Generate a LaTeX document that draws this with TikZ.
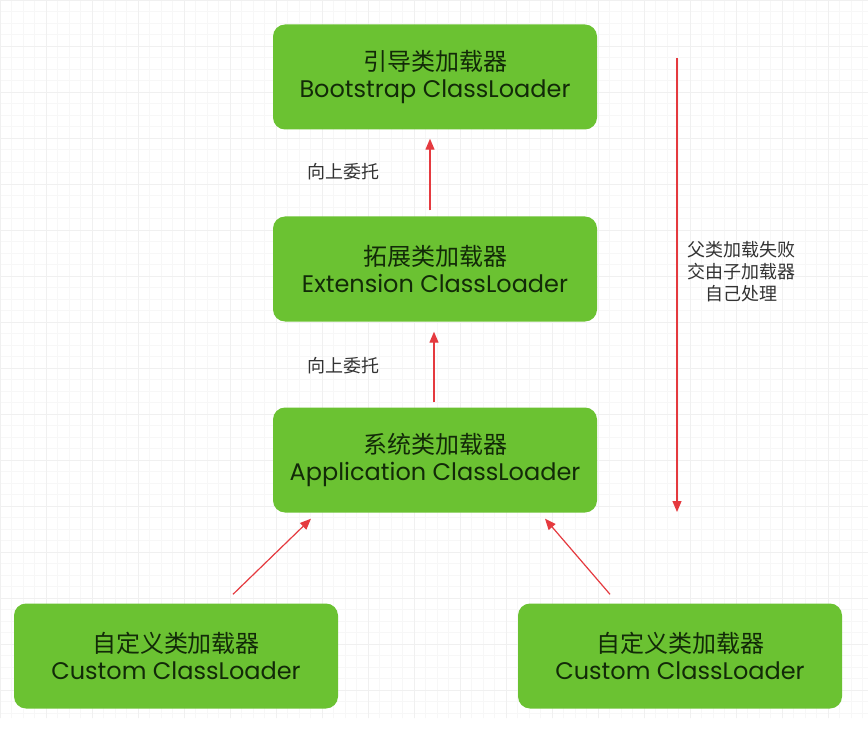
\documentclass[tikz,border=0pt]{standalone}
\usepackage{fontspec}
\setmainfont{Poppins}
\newfontfamily\cjk{Noto Sans CJK SC}
\usetikzlibrary{positioning, arrows.meta}
\definecolor{mgreen}{HTML}{6BC232}
\definecolor{mred}{HTML}{E53A3F}
\definecolor{mtext}{HTML}{122A08}
\definecolor{mlabel}{HTML}{333333}
\tikzset{
  loader/.style={fill=mgreen,draw=none,rounded corners=12pt,minimum width=324pt,minimum height=105pt,
    align=center,text=mtext,font=\fontsize{24}{27}\selectfont,inner sep=0pt},
  connect arrow/.style={-{Triangle[length=11pt,width=9pt]},line width=1.2pt,mred},
  note/.style={text=mlabel,font=\cjk\fontsize{18}{24}\selectfont,align=center}
}

\begin{document}
\begin{tikzpicture}[x=1pt, y=-1pt]

  % Canvas and grid
  \useasboundingbox (0,0) rectangle (868,738);
  \fill[white] (0,0) rectangle (868,738);
  \draw[black!3, line width=0.5pt, step=11.5pt] (0,0) grid (868,718);
  \draw[black!6, line width=0.7pt, step=46pt] (0,0) grid (868,718);

  % Loaders
  \node[loader] (boot) at (435,77) {{\cjk 引导类加载器}\\Bootstrap ClassLoader};
  \node[loader] (ext) at (435,269) {{\cjk 拓展类加载器}\\Extension ClassLoader};
  \node[loader] (app) at (435,460) {{\cjk 系统类加载器}\\Application ClassLoader};
  \node[loader] (cl) at (176,656) {{\cjk 自定义类加载器}\\Custom ClassLoader};
  \node[loader] (cr) at (680,656) {{\cjk 自定义类加载器}\\Custom ClassLoader};

  % Delegation upwards
  \draw[connect arrow] ([xshift=-5pt,yshift=6pt]ext.north) -- ([xshift=-5pt,yshift=-9pt]boot.south);
  \draw[connect arrow] ([xshift=-1pt,yshift=5pt]app.north) -- ([xshift=-1pt,yshift=-10pt]ext.south);
  \draw[connect arrow] ([xshift=57pt,yshift=9pt]cl.north) -- ([xshift=-124pt,yshift=-6pt]app.south);
  \draw[connect arrow] ([xshift=-70pt,yshift=9pt]cr.north) -- ([xshift=110pt,yshift=-6pt]app.south);

  \node[note] (up1) at (343,172) {向上委托};
  \node[note] (up2) at (343,366) {向上委托};

  % Failure goes back down
  \coordinate (fail top) at (677,58);
  \coordinate (fail bot) at (677,512);
  \draw[connect arrow] (fail top) -- (fail bot);
  \node[note, font=\cjk\fontsize{18}{22}\selectfont] (fail) at (741,272) {父类加载失败\\交由子加载器\\自己处理};

\end{tikzpicture}
\end{document}
